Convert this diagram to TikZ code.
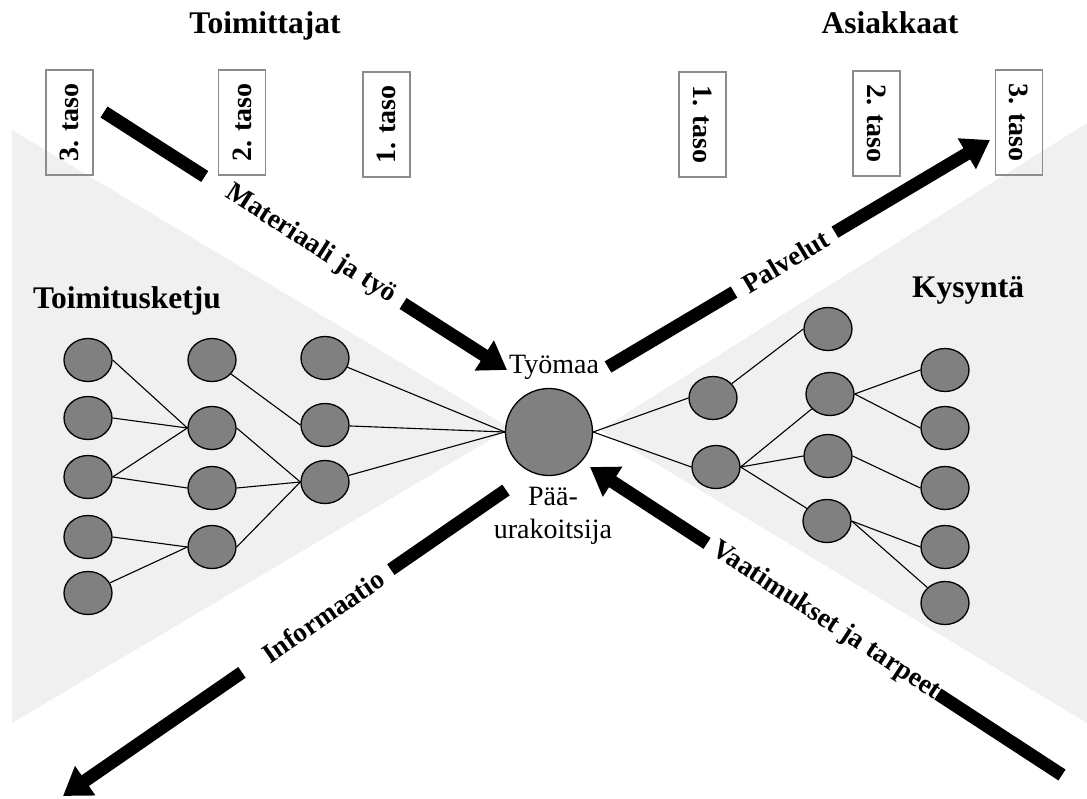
\documentclass[tikz,border=0pt]{standalone}
\usepackage{fontspec}
\setmainfont{Liberation Serif}
\usetikzlibrary{arrows.meta,shapes.geometric,calc}
\begin{document}
\begin{tikzpicture}[x=1pt,y=-1pt,
  actor/.style={ellipse,draw=black,line width=1.3pt,fill=black!50,
    minimum width=48pt,minimum height=43pt,inner sep=0pt},
  link/.style={line width=1.1pt},
  flow/.style={line width=13pt},
  flowhead/.style={line width=13pt,-{Triangle[length=27pt,width=34pt]}},
  flowlabel/.style={font=\fontsize{27.5}{30}\selectfont\bfseries,sloped,inner sep=0pt},
  tier/.style={draw=black!45,line width=1.1pt,minimum width=105pt,minimum height=47pt,
    inner sep=0pt,font=\fontsize{28}{30}\selectfont\bfseries},
  heading/.style={font=\fontsize{31.5}{34}\selectfont\bfseries,anchor=base},
  plain/.style={font=\fontsize{28}{33}\selectfont,anchor=base}
]
\useasboundingbox (0,0) rectangle (1087,798);

% bow-tie background
\fill[black!6] (12,130) -- (510,428) -- (12,723) -- cycle;
\fill[black!6] (1087,123) -- (600,430) -- (1087,723) -- cycle;

% headings
\node[heading] (sup) at (265,33) {Toimittajat};
\node[heading] (cus) at (890,33) {Asiakkaat};
\node[heading] (chain) at (127,308) {Toimitusketju};
\node[heading] (dem) at (968,297) {Kysyntä};

% tiers
\node[tier,rotate=90] (s3) at (69.5,122.5) {3. taso};
\node[tier,rotate=90] (s2) at (242,122.5) {2. taso};
\node[tier,rotate=90] (s1) at (386.5,124.5) {1. taso};
\node[tier,rotate=-90] (c1) at (702.5,124.5) {1. taso};
\node[tier,rotate=-90] (c2) at (876.5,123.5) {2. taso};
\node[tier,rotate=-90] (c3) at (1019,122.5) {3. taso};

% main contractor
\node[circle,draw=black,line width=1.3pt,fill=black!50,minimum size=87pt,inner sep=0pt] (hub) at (549,432) {};
\node[plain] (site) at (554,373) {Työmaa};
\node[plain] (mc1) at (553,505) {Pää-};
\node[plain] (mc2) at (553,538) {urakoitsija};

% supply chain
\node[actor] (l11) at (88,360) {};
\node[actor] (l12) at (88,418) {};
\node[actor] (l13) at (88,477) {};
\node[actor] (l14) at (88,537) {};
\node[actor] (l15) at (88,593) {};
\node[actor] (l21) at (212,360) {};
\node[actor] (l22) at (212,428) {};
\node[actor] (l23) at (212,488) {};
\node[actor] (l24) at (212,547) {};
\node[actor] (l31) at (325,358) {};
\node[actor] (l32) at (325,425) {};
\node[actor] (l33) at (325,482) {};

\draw[link] (l11.east) -- (l22.west);
\draw[link] (l12.east) -- (l22.west);
\draw[link] (l13.east) -- (l22.west);
\draw[link] (l13.east) -- (l23.west);
\draw[link] (l14.east) -- (l24.west);
\draw[link] (l15) -- (l24.west);
\draw[link] (l21) -- (l32.west);
\draw[link] (l22.east) -- (l33.west);
\draw[link] (l23.east) -- (l33.west);
\draw[link] (l24.east) -- (l33.west);
\draw[link] (l31) -- (hub.west);
\draw[link] (l32) -- (hub.west);
\draw[link] (l33) -- (hub.west);

% demand side
\node[actor] (r11) at (713,398) {};
\node[actor] (r12) at (716,467) {};
\node[actor] (r21) at (828,329) {};
\node[actor] (r22) at (830,394) {};
\node[actor] (r23) at (828,456) {};
\node[actor] (r24) at (827,521) {};
\node[actor] (r31) at (945,370) {};
\node[actor] (r32) at (945,428) {};
\node[actor] (r33) at (945,488) {};
\node[actor] (r34) at (945,547) {};
\node[actor] (r35) at (945,603) {};

\draw[link] (hub.east) -- (r11.west);
\draw[link] (hub.east) -- (r12.west);
\draw[link] (r11) -- (r21.west);
\draw[link] (r12.east) -- (r22);
\draw[link] (r12.east) -- (r23.west);
\draw[link] (r12.east) -- (r24);
\draw[link] (r22.east) -- (r31.west);
\draw[link] (r22.east) -- (r32.west);
\draw[link] (r23.east) -- (r33.west);
\draw[link] (r24.east) -- (r34.west);
\draw[link] (r24.east) -- (r35);

% flows
\coordinate (m0) at (104,112);
\coordinate (m1) at (507,370);
\coordinate (ma) at ($(m0)!0.25!(m1)$);
\coordinate (mb) at ($(m0)!0.742!(m1)$);
\draw[flow] (m0) -- (ma);
\draw[flowhead] (mb) -- (m1);
\path (m0) -- (m1) node[flowlabel,pos=0.513] (mlab) {Materiaali ja työ};

\coordinate (p0) at (608,367);
\coordinate (p1) at (990,140);
\coordinate (pa) at ($(p0)!0.33!(p1)$);
\coordinate (pb) at ($(p0)!0.594!(p1)$);
\draw[flow] (p0) -- (pa);
\draw[flowhead] (pb) -- (p1);
\path (p0) -- (p1) node[flowlabel,pos=0.465] (plab) {Palvelut};

\coordinate (i0) at (506,490);
\coordinate (i1) at (63,796);
\coordinate (ia) at ($(i0)!0.26!(i1)$);
\coordinate (ib) at ($(i0)!0.596!(i1)$);
\draw[flow] (i0) -- (ia);
\draw[flowhead] (ib) -- (i1);
\path (i0) -- (i1) node[flowlabel,pos=0.413] (ilab) {Informaatio};

\coordinate (v0) at (1062,775);
\coordinate (v1) at (590,467);
\coordinate (va) at ($(v0)!0.263!(v1)$);
\coordinate (vb) at ($(v0)!0.752!(v1)$);
\draw[flow] (v0) -- (va);
\draw[flowhead] (vb) -- (v1);
\path (v0) -- (v1) node[flowlabel,pos=0.50] (vlab) {Vaatimukset ja tarpeet};
\end{tikzpicture}
\end{document}
